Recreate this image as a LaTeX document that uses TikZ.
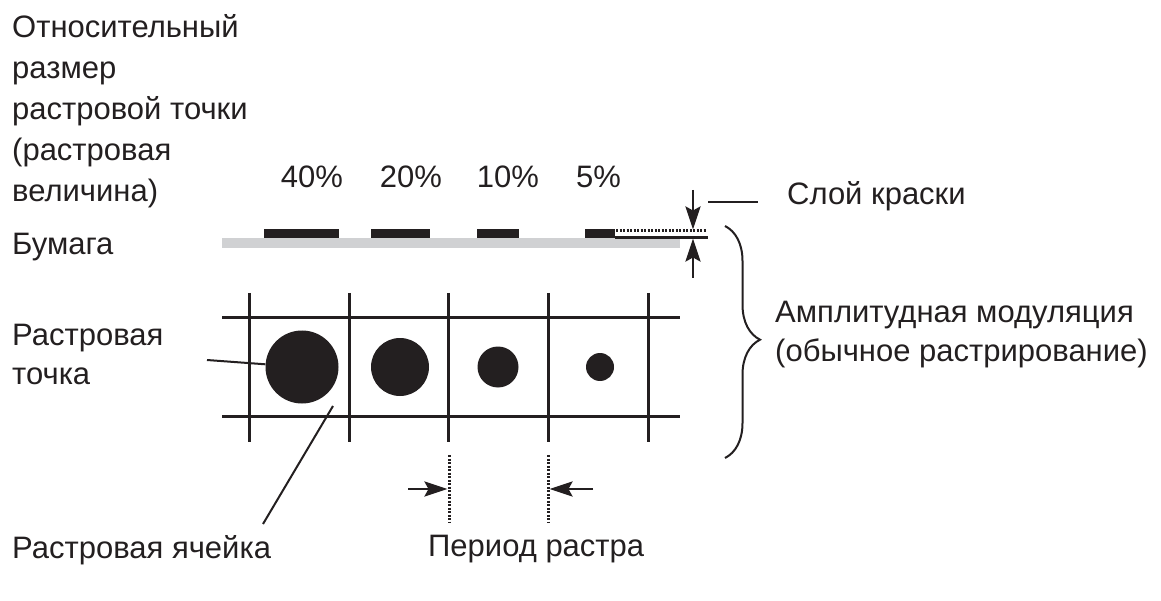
\documentclass[tikz,border=0pt]{standalone}
\usepackage{fontspec}
\setmainfont{Liberation Sans}
\usetikzlibrary{arrows.meta}
\usetikzlibrary{decorations.pathreplacing}
\definecolor{paper_gray}{RGB}{208,209,211}
\definecolor{ink_black}{RGB}{35,31,32}

\begin{document}
\begin{tikzpicture}[x=1pt,y=-1pt]
    \tikzstyle{label}=[inner sep=0pt,text=ink_black,font=\fontsize{31}{38.5}\selectfont]
    \tikzstyle{block}=[style=label,align=left,anchor=north west]
    \tikzstyle{grid}=[draw=ink_black,line width=3pt]
    \tikzstyle{lead}=[draw=ink_black,line width=2pt]
    \tikzstyle{dot}=[circle,fill=ink_black,inner sep=0pt]
    \tikzstyle{dim}=[draw=ink_black,line width=2.8pt,-{Stealth[length=23pt,width=15pt,inset=4pt]}]
    \tikzstyle{marker}=[draw=ink_black,line width=3pt,dash pattern=on 2pt off 1.5pt]

    \useasboundingbox (0,0) rectangle (1161,601);

    % texts
    \node[block,font=\fontsize{31}{41}\selectfont] (rel) at (12,14) {Относительный\\размер\\растровой точки\\(растровая\\величина)};
    \node[label,anchor=base west] (paper) at (12,255) {Бумага};
    \node[label,anchor=base] (p40) at (312,188) {40\%};
    \node[label,anchor=base] (p20) at (411,188) {20\%};
    \node[label,anchor=base] (p10) at (508,188) {10\%};
    \node[label,anchor=base] (p5)  at (598.5,188) {5\%};
    \node[label,anchor=base west] (layer) at (787,205) {Слой краски};
    \node[block] (am) at (775,301) {Амплитудная модуляция\\(обычное растрирование)};
    \node[block] (pt) at (12,324) {Растровая\\точка};
    \node[label,anchor=base west] (cell) at (12,558) {Растровая ячейка};
    \node[label,anchor=base west] (period) at (428,556) {Период растра};

    % paper and ink
    \fill[paper_gray] (222,238) rectangle (680,248);
    \foreach \a/\b in {264/339,371/430,477/519,585/615}
        \fill[ink_black] (\a,229) rectangle (\b,238.5);
    \draw[marker] (616,231) -- (707,231);
    \draw[draw=ink_black,line width=2.5pt] (615,237.3) -- (708,237.3);

    % screen cells
    \foreach \y in {318,416} \draw[grid] (222,\y) -- (680,\y);
    \foreach \x in {249,349,448,548,648} \draw[grid] (\x,293) -- (\x,442);
    \node[dot,minimum size=73pt] (d40) at (302,367) {};
    \node[dot,minimum size=58pt] (d20) at (400,367) {};
    \node[dot,minimum size=41pt] (d10) at (498,367) {};
    \node[dot,minimum size=28pt] (d5)  at (600,367) {};

    % connectors
    \coordinate (inkhi) at (693,190);  \coordinate (inktop) at (693,229.5);
    \coordinate (inklo) at (693,278);  \coordinate (inkbot) at (693,238.5);
    \coordinate (dash)  at (708,202);
    \coordinate (ptend) at (207,360);
    \coordinate (cellA) at (333,406);  \coordinate (cellB) at (263,524);
    \coordinate (perL)  at (408,489);  \coordinate (perR)  at (593,489);
    \coordinate (tipL)  at (447.5,489); \coordinate (tipR) at (549.5,489);
    \draw[dim] (inkhi) -- (inktop);
    \draw[dim] (inklo) -- (inkbot);
    \draw[lead] (dash) -- ++(50,0);
    \draw[lead] (ptend) -- (d40);
    \draw[lead] (cellA) -- (cellB);
    \draw[marker] (449,455) -- (449,522);
    \draw[marker] (548,455) -- (548,522);
    \draw[dim] (perL) -- (tipL);
    \draw[dim] (perR) -- (tipR);
    \draw[draw=ink_black,line width=2pt,decorate,decoration={brace,amplitude=35pt,aspect=0.49}] (725,226) -- (725,458);
\end{tikzpicture}
\end{document}
